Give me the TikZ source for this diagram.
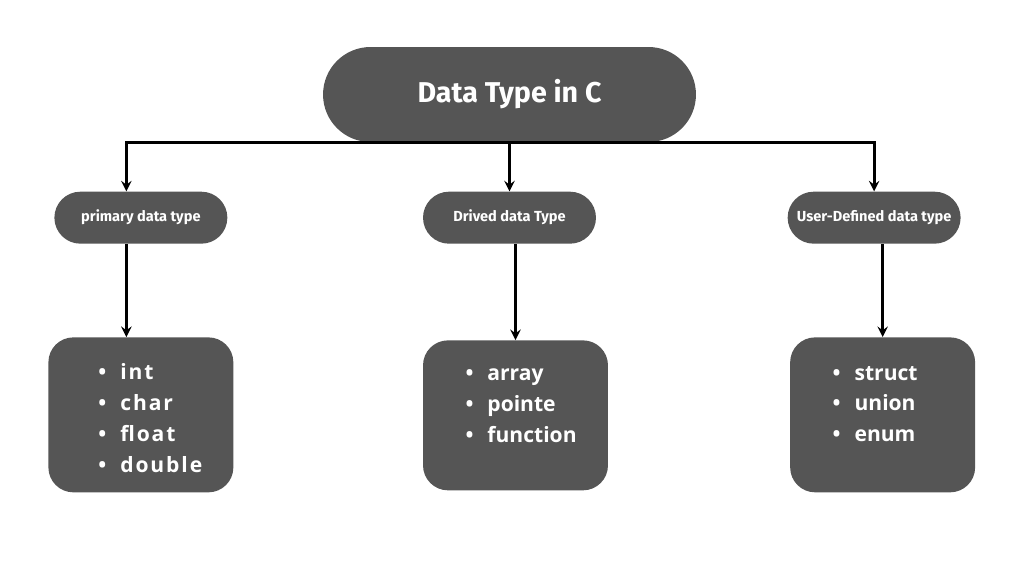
\documentclass[tikz,border=0pt]{standalone}
\usepackage{fontspec}
\setmainfont{Fira Sans}
\newfontfamily\listfont{Open Sans}
\usetikzlibrary{shapes,arrows,positioning}
\definecolor{boxgray}{HTML}{555555}
\tikzstyle{titlebox} = [rectangle, rounded corners=0.95cm, minimum width=7.46cm, minimum height=1.9cm, text centered, fill=boxgray, text=white, font=\fontsize{16.3}{19}\selectfont\bfseries]
\tikzstyle{subtype} = [rectangle, rounded corners=0.52cm, minimum width=3.46cm, minimum height=1.04cm, text centered, fill=boxgray, text=white, font=\fontsize{8.3}{10}\selectfont\bfseries]
\tikzstyle{listbox} = [rectangle, rounded corners=0.5cm, minimum width=3.7cm, minimum height=3.1cm, text width=2.9cm, align=left, fill=boxgray, text=white, font=\listfont\fontsize{12}{17.6}\selectfont\bfseries]
\tikzstyle{arrow} = [line width=1.6pt,->,>=stealth]
\newlength{\listindent}
\setlength{\listindent}{0.45cm}
\newcommand{\bitem}[1]{\hspace*{\listindent}\textbullet\hspace{0.28cm}#1}

\begin{document}
\begin{tikzpicture}[x=0.02cm,y=-0.02cm]
                \useasboundingbox [fill=white] (0,0) rectangle (1024,576);
                \node (title) [titlebox] at (509.5,94.5) {Data Type in C};
                \node (drv) [subtype, below=0.98cm of title] {Drived data Type};
                \node (prim) [subtype, left=3.9cm of drv] {primary data type};
                \node (udt) [subtype, right=3.82cm of drv] {User-Defined data type};
                \node (primbox) [listbox, below=1.86cm of prim] {\setlength{\listindent}{0.6cm}\addfontfeature{LetterSpace=9}\rule{0pt}{1.1em}\bitem{int}\\ \bitem{char}\\ \bitem{float}\\ \bitem{double}};
                \node (drvbox) [listbox, minimum height=3cm, below=1.92cm of drv, xshift=0.12cm] {\rule{0pt}{1.1em}\bitem{array}\\ \bitem{pointe}\\ \bitem{function}\\ ~};
                \node (udtbox) [listbox, below=1.86cm of udt, xshift=0.17cm] {\rule{0pt}{1.1em}\bitem{struct}\\ \bitem{union}\\ \bitem{enum}\\ ~};
                \draw [arrow] (title.south) -| ([xshift=-0.29cm]prim.north);
                \draw [arrow] (title.south) -- (drv.north);
                \draw [arrow] (title.south) -| (udt.north);
                \draw [arrow] ([xshift=-0.29cm]prim.south) -- ([xshift=-0.29cm]primbox.north);
                \draw [arrow] (drvbox.north |- drv.south) -- (drvbox.north);
                \draw [arrow] (udtbox.north |- udt.south) -- (udtbox.north);
            \end{tikzpicture}
\end{document}
